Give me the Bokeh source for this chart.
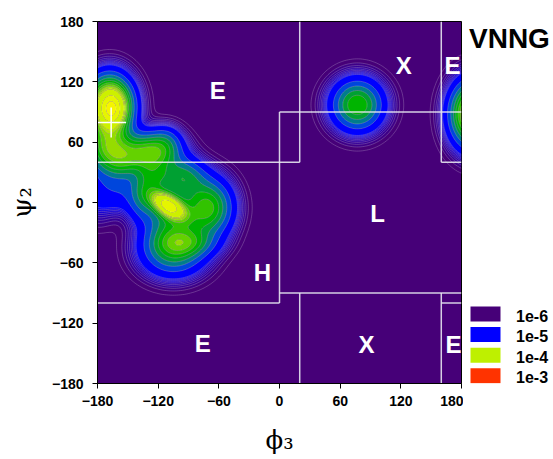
import numpy as np
from bokeh.plotting import figure
from bokeh.layouts import row
from bokeh.models import Range1d
from bokeh.embed import file_html
from bokeh.resources import INLINE
from bokeh.core.properties import value

# ---- density model: peaks (phi, psi, amplitude, widths, correlation)
peak_phi = [-168, -166, -170, -128, -155, -125, -95, -135, -110, -105, -70, -92, -105, -180, -158, 77, 192, -112]
peak_psi = [96, 93, 55, 50, 42, 25, 25, 5, -3, -15, -5, -40, -48, 10, 12, 97, 88, 62]
peak_amp = [1.3e-4, 1.0e-4, 6e-5, 7e-5, 3e-5, 3.5e-5, 4e-5, 3e-5, 1.5e-4, 4e-5, 6e-5,
            3e-5, 4.5e-5, 1.2e-5, 1.4e-5, 6e-5, 1.1e-4, 1.5e-5]
peak_sphi = [14, 7, 14, 18, 12, 12, 14, 10, 10, 18, 15, 18, 20, 12, 12, 16, 14, 10]
peak_spsi = [18, 10, 16, 12, 12, 12, 12, 14, 8, 18, 18, 9, 16, 18, 14, 16, 20, 10]
peak_rho = [0, 0, 0, 0, 0, 0, 0, 0, -0.5, 0, 0, 0, 0, 0, 0, 0, 0, 0]

tick_vals = [-180, -120, -60, 0, 60, 120, 180]

# region boundaries (x0, y0, x1, y1)
seg_x0 = [-180, 20, 0, 0, 0, -180, 20, 160, 160, 160, 160]
seg_y0 = [40, 40, 90, -100, -90, -100, -180, -180, -100, 40, 40]
seg_x1 = [20, 20, 180, 0, 180, 0, 20, 160, 180, 160, 180]
seg_y1 = [40, 180, 90, 90, -90, -100, -90, -90, -100, 180, 40]

region_text = ["E", "X", "E", "L", "H", "E", "X", "E"]
region_x = [-61, 123, 171, 97, -17, -76, 86, 172]
region_y = [111, 136, 136, -11, -70, -140, -141, -141]

cross_x = [-166.5]
cross_y = [79.5]

legend_labels = ["1e-6", "1e-5", "1e-4", "1e-3"]
legend_colors = ["#460078", "#0000FF", "#BEF000", "#FF3300"]
title_text = "VNNG"
x_title = "ϕ₃"
y_title = "ψ₂"

# ---- grid
phi = np.linspace(-180, 180, 181)
psi = np.linspace(-180, 180, 181)
PHI, PSI = np.meshgrid(phi, psi)
Z = np.zeros_like(PHI)
for cx, cy, a, sx, sy, r in zip(peak_phi, peak_psi, peak_amp, peak_sphi, peak_spsi, peak_rho):
    dx = (PHI - cx) / sx
    dy = (PSI - cy) / sy
    q = (dx * dx - 2 * r * dx * dy + dy * dy) / (1 - r * r)
    Z += a * np.exp(-0.5 * q)

levels = [k * 1e-6 for k in range(1, 10)] + [k * 1e-5 for k in range(1, 10)] + [1e-4, 1.5e-4, 2e-4, 3e-4, 1e-3]

def hexc(c):
    return "#%02x%02x%02x" % tuple(int(round(v)) for v in c)

purple = (70, 0, 120)
blue = (0, 0, 255)
colors = []
for k in range(1, 10):
    t = (k - 1) / 9.0
    colors.append(hexc([purple[i] + (blue[i] - purple[i]) * t for i in range(3)]))
colors += ["#0000ff", "#0046dc", "#007d8c", "#00a032", "#00b400", "#32c300",
           "#64d200", "#96dc00", "#b4e600",
           "#cdf000", "#e6f500", "#f5f500", "#ffd200"]

H_TOT = 459
TOP, FRAME_H, BOTTOM = 21, 362, 76

# ---- main figure
p = figure(frame_width=364, frame_height=FRAME_H,
           x_range=Range1d(-180, 180), y_range=Range1d(-180, 180),
           min_border_left=97, min_border_right=2, min_border_top=TOP, min_border_bottom=BOTTOM,
           output_backend="svg", toolbar_location=None,
           background_fill_color=hexc(purple), border_fill_color="white",
           outline_line_color="black", outline_line_width=1)
p.grid.visible = False

p.contour(phi, psi, Z, levels, fill_color=colors, line_color="white",
          line_alpha=0.35, line_width=0.6)

p.segment(x0=seg_x0, y0=seg_y0, x1=seg_x1, y1=seg_y1, line_color="#e6e6ef",
          line_width=1.5, line_alpha=0.9)
p.scatter(x=cross_x, y=cross_y, marker="cross", size=30, line_color="white",
          line_width=1.5, fill_color=None)

p.text(x=region_x, y=region_y, text=region_text, text_color="white",
       text_font=value("Liberation Sans"), text_font_style="bold",
       text_font_size="24px", text_align="center", text_baseline="middle")

for ax in (p.xaxis, p.yaxis):
    ax.ticker = tick_vals
    ax.major_label_text_font = "Liberation Sans"
    ax.major_label_text_font_style = "bold"
    ax.major_label_text_font_size = "14px"
    ax.major_label_text_color = "black"
    ax.major_tick_in = 0
    ax.major_tick_out = 5
    ax.minor_tick_line_color = None
    ax.axis_line_color = "black"
    ax.major_tick_line_color = "black"
    ax.axis_label_text_font = "DejaVu Serif"
    ax.axis_label_text_font_style = "normal"
    ax.axis_label_text_font_size = "26px"
    ax.axis_label_text_color = "black"
p.xaxis.major_label_standoff = 7
p.yaxis.major_label_standoff = 9
p.xaxis.axis_label = x_title
p.yaxis.axis_label = y_title
p.xaxis.axis_label_standoff = 16
p.yaxis.axis_label_standoff = 12

# ---- side strip: title and legend (page x 463..553); frame aligned with main frame
s = figure(width=90, frame_height=FRAME_H,
           x_range=Range1d(0, 90), y_range=Range1d(H_TOT - (TOP + FRAME_H), H_TOT - TOP),
           min_border_left=0, min_border_right=0, min_border_top=TOP, min_border_bottom=BOTTOM,
           output_backend="svg", toolbar_location=None,
           x_axis_type=None, y_axis_type=None, outline_line_color=None,
           background_fill_color="white", border_fill_color="white")
s.grid.visible = False
s.text(x=[5.5], y=[H_TOT - 38], text=[title_text], text_color="black",
       text_font=value("Liberation Sans"), text_font_style="bold",
       text_font_size="28px", text_align="left", text_baseline="middle")
ys = [313.5 + 20.6 * i for i in range(len(legend_labels))]
s.rect(x=[22] * len(ys), y=[H_TOT - v for v in ys], width=30, height=15,
       fill_color=legend_colors, line_color=None)
s.text(x=[52.5] * len(ys), y=[H_TOT - (v + 1.5) for v in ys], text=legend_labels,
       text_color="black", text_font=value("Liberation Sans"), text_font_style="bold",
       text_font_size="16px", text_align="left", text_baseline="middle")

layout = row(p, s)
open("out.html", "w").write(file_html(layout, INLINE))
